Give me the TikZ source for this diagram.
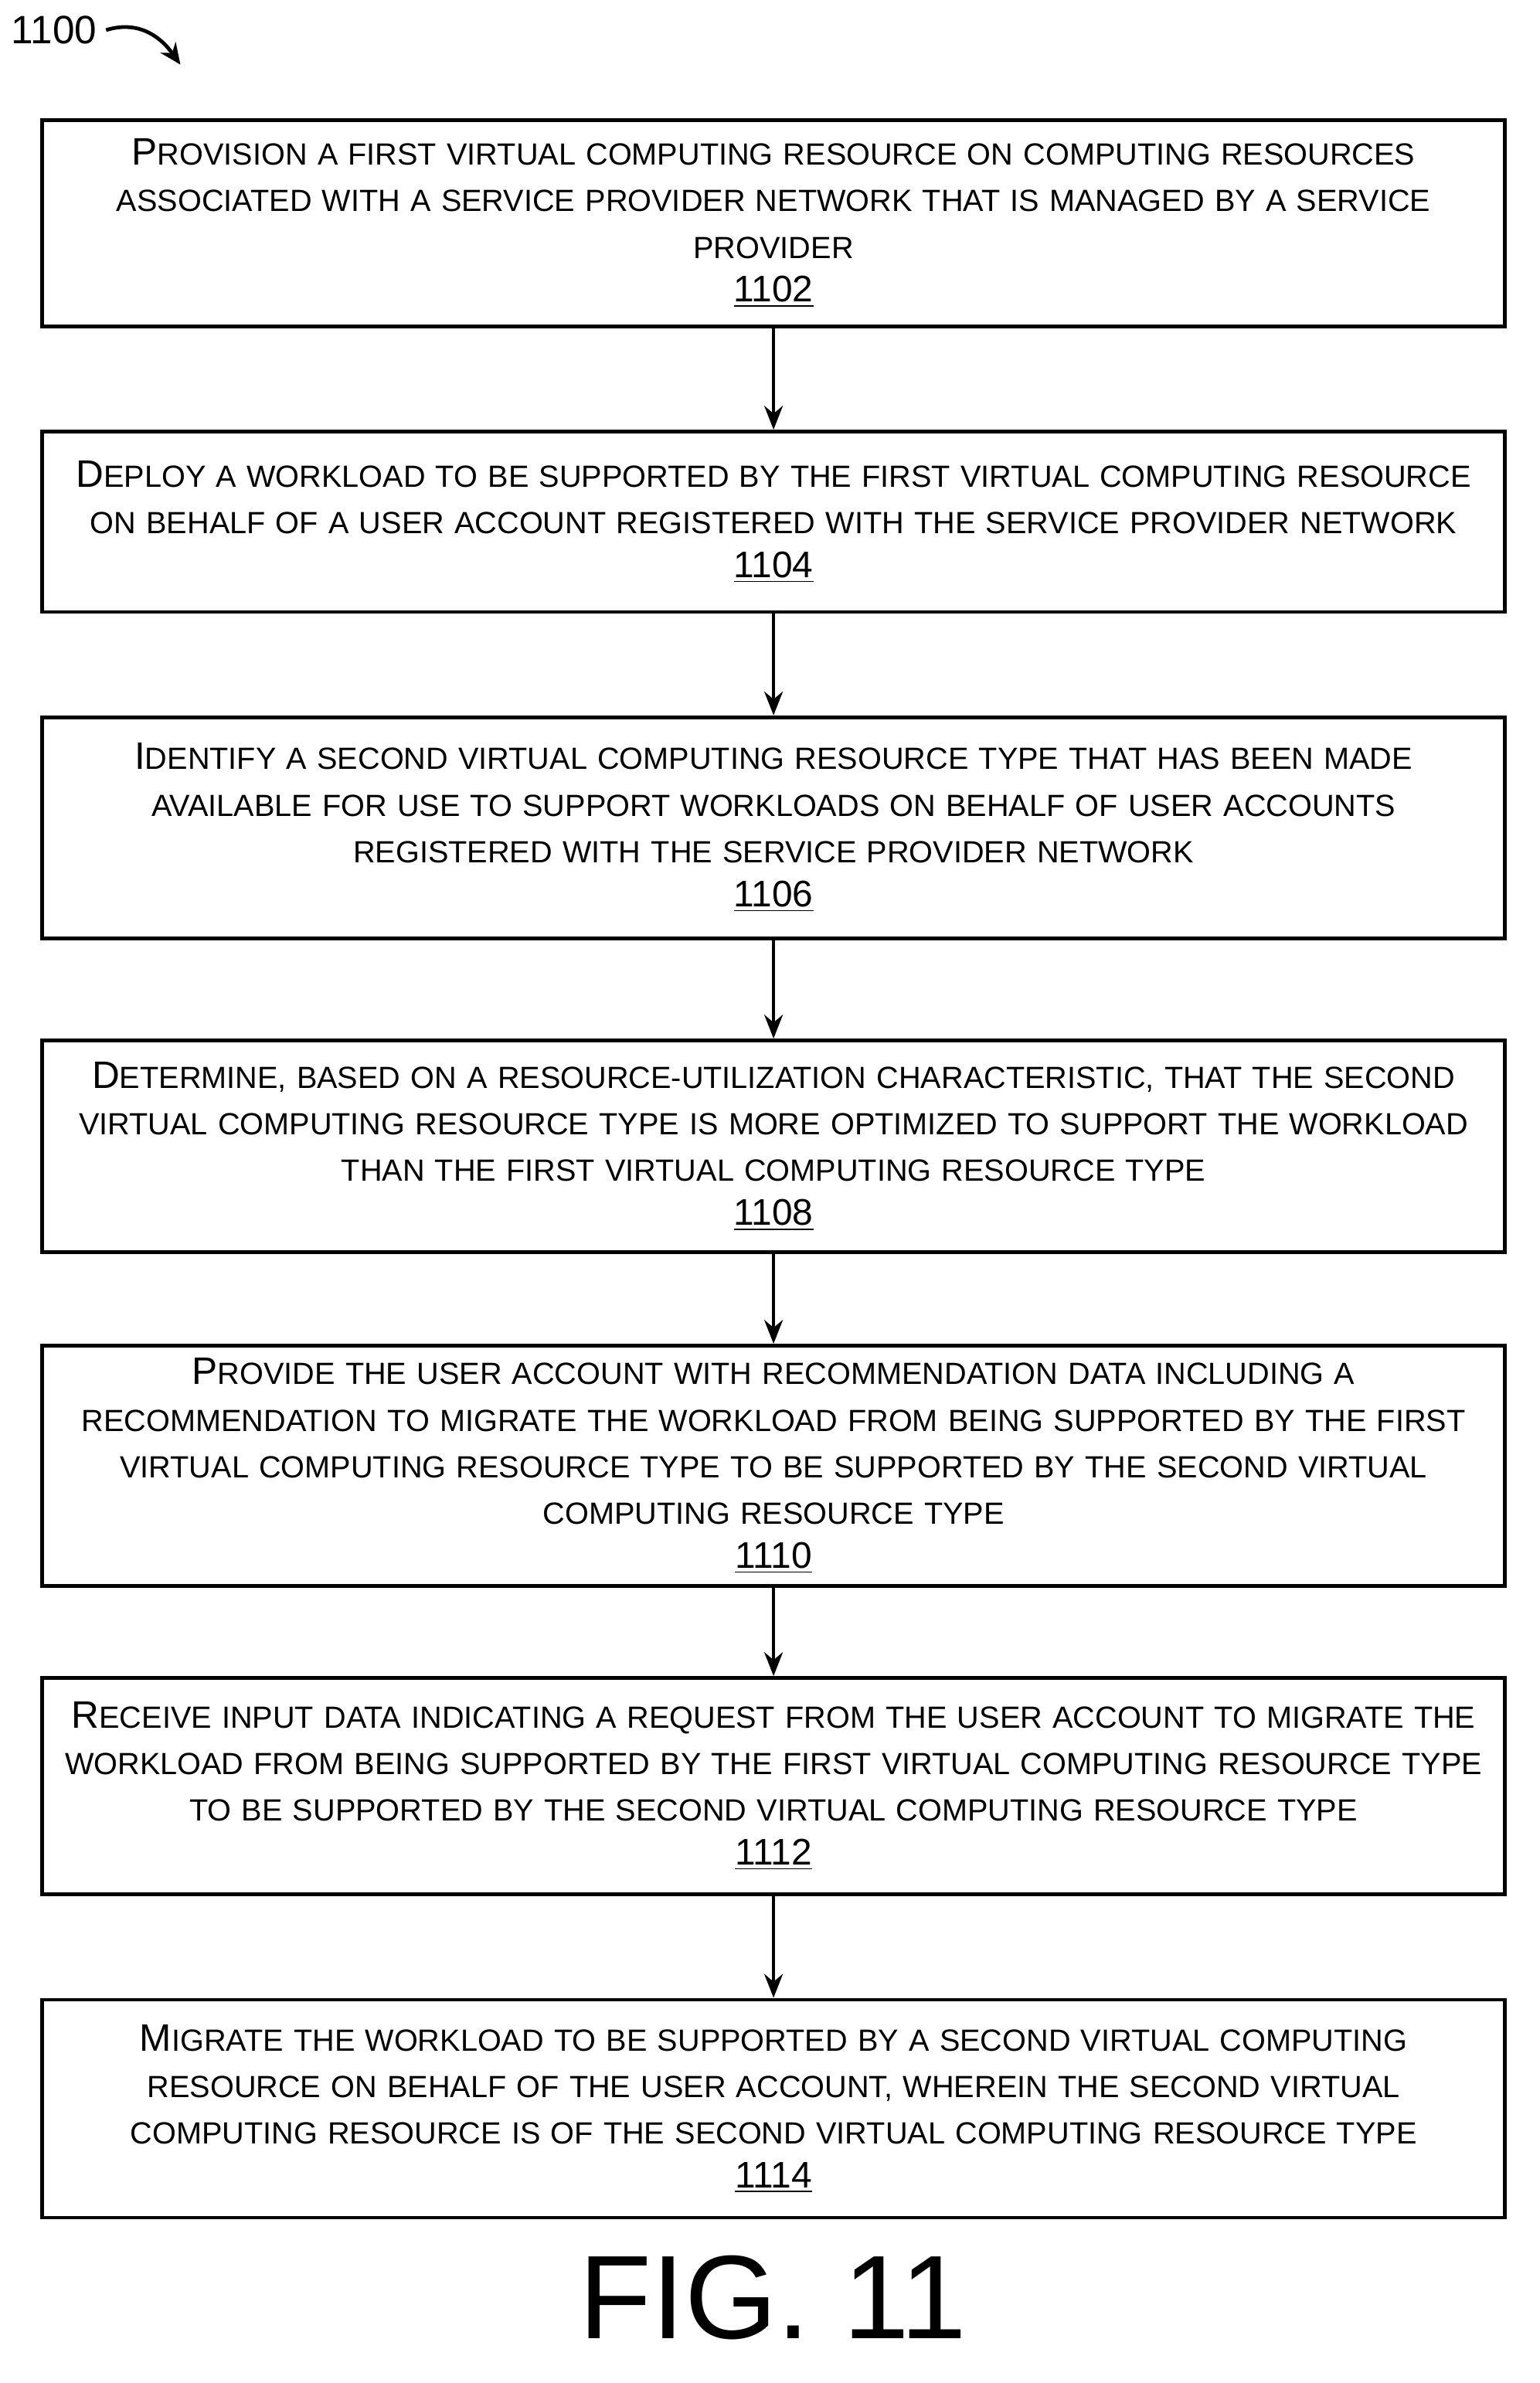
\documentclass[tikz,border=0pt]{standalone}
\usepackage{fontspec}
\setmainfont{Liberation Sans}
\usetikzlibrary{arrows.meta}
\newcommand{\capfirst}[2]{{\fontsize{14.5}{18}\selectfont #1}#2}
\newcommand{\stepno}[1]{\\[-1pt]{\fontsize{14}{18}\selectfont\underline{#1}}}
\tikzset{
  stepbox/.style={draw, line width=1.4pt, minimum width=19.46cm, text width=19.3cm,
    align=center, inner sep=0pt, font=\fontsize{11.6}{17.6}\selectfont},
  arrow/.style={line width=1.4pt, -{Stealth[length=9pt,width=7pt]}}
}
\begin{document}
\begin{tikzpicture}[x=0.02cm, y=-0.02cm]
\useasboundingbox (0,0) rectangle (1024,1585);
% steps
\node[stepbox, minimum height=2.74cm] (s1102) at (514.5,148.5) {\capfirst{P}{ROVISION A FIRST VIRTUAL COMPUTING RESOURCE ON COMPUTING RESOURCES}\\ASSOCIATED WITH A SERVICE PROVIDER NETWORK THAT IS MANAGED BY A SERVICE\\PROVIDER\stepno{1102}};
\node[stepbox, minimum height=2.40cm] (s1104) at (514.5,347) {\capfirst{D}{EPLOY A WORKLOAD TO BE SUPPORTED BY THE FIRST VIRTUAL COMPUTING RESOURCE}\\ON BEHALF OF A USER ACCOUNT REGISTERED WITH THE SERVICE PROVIDER NETWORK\stepno{1104}};
\node[stepbox, minimum height=2.94cm] (s1106) at (514.5,550.5) {\capfirst{I}{DENTIFY A SECOND VIRTUAL COMPUTING RESOURCE TYPE THAT HAS BEEN MADE}\\AVAILABLE FOR USE TO SUPPORT WORKLOADS ON BEHALF OF USER ACCOUNTS\\REGISTERED WITH THE SERVICE PROVIDER NETWORK\stepno{1106}};
\node[stepbox, minimum height=2.82cm] (s1108) at (514.5,762.5) {\capfirst{D}{ETERMINE, BASED ON A RESOURCE-UTILIZATION CHARACTERISTIC, THAT THE SECOND}\\VIRTUAL COMPUTING RESOURCE TYPE IS MORE OPTIMIZED TO SUPPORT THE WORKLOAD\\THAN THE FIRST VIRTUAL COMPUTING RESOURCE TYPE\stepno{1108}};
\node[stepbox, minimum height=3.20cm] (s1110) at (514.5,975) {\capfirst{P}{ROVIDE THE USER ACCOUNT WITH RECOMMENDATION DATA INCLUDING A}\\RECOMMENDATION TO MIGRATE THE WORKLOAD FROM BEING SUPPORTED BY THE FIRST\\VIRTUAL COMPUTING RESOURCE TYPE TO BE SUPPORTED BY THE SECOND VIRTUAL\\COMPUTING RESOURCE TYPE\stepno{1110}};
\node[stepbox, minimum height=2.88cm] (s1112) at (514.5,1188) {\capfirst{R}{ECEIVE INPUT DATA INDICATING A REQUEST FROM THE USER ACCOUNT TO MIGRATE THE}\\WORKLOAD FROM BEING SUPPORTED BY THE FIRST VIRTUAL COMPUTING RESOURCE TYPE\\TO BE SUPPORTED BY THE SECOND VIRTUAL COMPUTING RESOURCE TYPE\stepno{1112}};
\node[stepbox, minimum height=2.90cm] (s1114) at (514.5,1402.5) {\capfirst{M}{IGRATE THE WORKLOAD TO BE SUPPORTED BY A SECOND VIRTUAL COMPUTING}\\RESOURCE ON BEHALF OF THE USER ACCOUNT, WHEREIN THE SECOND VIRTUAL\\COMPUTING RESOURCE IS OF THE SECOND VIRTUAL COMPUTING RESOURCE TYPE\stepno{1114}};
% flow
\foreach \a/\b in {1102/1104,1104/1106,1106/1108,1108/1110,1110/1112,1112/1114}
  \draw[arrow] (s\a) -- (s\b);
% labels
\node[font=\fontsize{15}{18}\selectfont] (fig) at (36,20) {1100};
\coordinate (figend) at (120,43);
\draw[line width=1.4pt, -{Stealth[length=8pt,width=7pt]}] (fig.east) .. controls (90,14) and (105,22) .. (figend);
\node[font=\fontsize{45}{48}\selectfont, inner sep=0pt] (caption) at (514,1528) {FIG. 11};
\end{tikzpicture}
\end{document}
